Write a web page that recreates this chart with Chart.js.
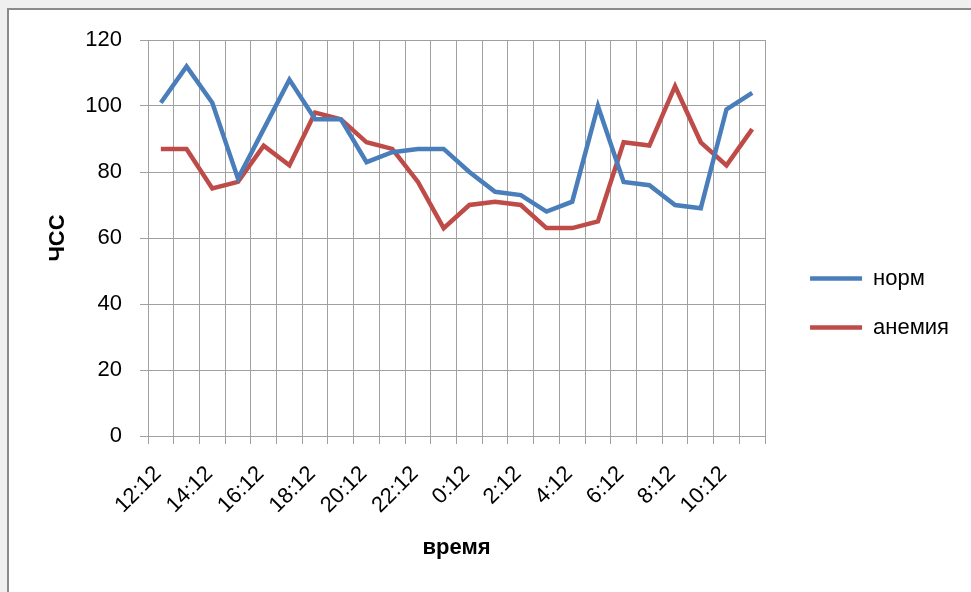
<!DOCTYPE html>
<html lang="ru">
<head>
    <meta charset="UTF-8">
    <title>ЧСС: норм / анемия</title>
    <script src="https://cdn.jsdelivr.net/npm/chart.js"></script>
    <style>
body {
    margin: 0;
    background: #efefef;
    overflow: hidden;
}
#frame {
    position: absolute;
    left: 7px;
    top: 8px;
    width: 1000px;
    height: 620px;
    background: #fff;
    border-top: 2px solid #8a8a8a;
    border-left: 2px solid #8a8a8a;
}
#chartBox {
    position: absolute;
    left: 0;
    top: 0;
    width: 971px;
    height: 592px;
}
    </style>
</head>
<body>
    <div id="frame"></div>
    <div id="chartBox"><canvas id="hrChart"></canvas></div>
    <script>
const times = ['12:12', '13:12', '14:12', '15:12', '16:12', '17:12', '18:12', '19:12',
    '20:12', '21:12', '22:12', '23:12', '0:12', '1:12', '2:12', '3:12',
    '4:12', '5:12', '6:12', '7:12', '8:12', '9:12', '10:12', '11:12'];
const normValues = [101, 112, 101, 78, 93, 108, 96, 96, 83, 86, 87, 87,
    80, 74, 73, 68, 71, 100, 77, 76, 70, 69, 99, 104];
const anemiaValues = [87, 87, 75, 77, 88, 82, 98, 96, 89, 87, 77, 63,
    70, 71, 70, 63, 63, 65, 89, 88, 106, 89, 82, 93];
const yTicks = [0, 20, 40, 60, 80, 100, 120];

const gridColor = '#a0a0a0';
const textFont = { family: "'Liberation Sans', Arial, sans-serif", size: 22 };
const titleFont = { family: "'Liberation Sans', Arial, sans-serif", size: 22, weight: 'bold' };

const hrChart = new Chart(document.getElementById('hrChart'), {
    type: 'line',
    data: {
        labels: times,
        datasets: [
            {
                label: 'норм',
                data: normValues,
                borderColor: '#4a7ebb',
                backgroundColor: '#4a7ebb',
                borderWidth: 4.5,
                pointRadius: 0,
                tension: 0,
                yAxisID: 'y'
            },
            {
                label: 'анемия',
                data: anemiaValues,
                borderColor: '#be4b48',
                backgroundColor: '#be4b48',
                borderWidth: 4.5,
                pointRadius: 0,
                tension: 0,
                yAxisID: 'y'
            }
        ]
    },
    options: {
        responsive: true,
        maintainAspectRatio: false,
        animation: false,
        color: '#000',
        layout: { padding: { left: 41, top: 40, right: 12, bottom: 26 } },
        plugins: {
            tooltip: { enabled: false },
            legend: {
                position: 'right',
                labels: {
                    color: '#000',
                    font: textFont,
                    usePointStyle: true,
                    pointStyle: 'line',
                    pointStyleWidth: 52,
                    padding: 27
                }
            }
        },
        scales: {
            x: {
                offset: true,
                afterFit: s => { s.height = 130; },
                grid: { color: gridColor, offset: true, tickLength: 8 },
                border: { color: gridColor },
                ticks: {
                    color: '#000',
                    font: textFont,
                    autoSkip: false,
                    minRotation: 45,
                    maxRotation: 45,
                    padding: 17,
                    labelOffset: -3,
                    callback: (v, i) => (i % 2 === 0 ? times[i] : '')
                },
                title: {
                    display: true,
                    text: 'время',
                    color: '#000',
                    font: titleFont,
                    padding: { top: 12, bottom: 5 }
                }
            },
            y: {
                min: 0,
                max: 120,
                afterBuildTicks: s => { s.ticks = yTicks.map(v => ({ value: v })); },
                afterFit: s => { s.width = 107; },
                grid: { color: gridColor, tickLength: 8 },
                border: { color: gridColor },
                ticks: { color: '#000', font: textFont, padding: 18 },
                title: {
                    display: true,
                    text: 'ЧСС',
                    color: '#000',
                    font: titleFont,
                    padding: { top: 4, bottom: 4 }
                }
            },
            // empty gap between the plot and the legend
            spacer: {
                position: 'right',
                display: false,
                afterFit: s => { s.width = 18; }
            }
        }
    }
});
    </script>
</body>
</html>
